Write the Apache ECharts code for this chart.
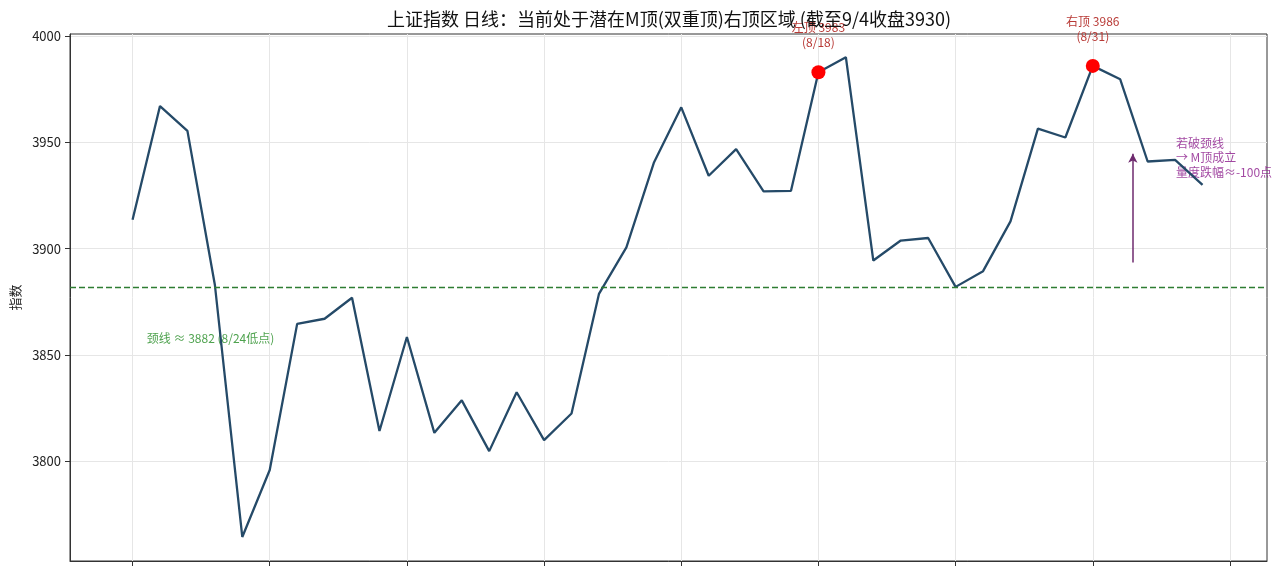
<!DOCTYPE html>
<html>
<head>
<meta charset="utf-8">
<script src="https://cdn.jsdelivr.net/npm/echarts@6/dist/echarts.min.js"></script>
<style>
    html, body { margin: 0; padding: 0; background: #fff; }
    #chart { width: 1278px; height: 577px; }
</style>
</head>
<body>
<div id="chart"></div>
<script>
// 日线收盘
var closes = [3913.6, 3967.1, 3955.4, 3883.0, 3764.3, 3795.8, 3864.6, 3867.0, 3876.9, 3814.2,
              3858.4, 3813.3, 3828.6, 3804.7, 3832.4, 3809.9, 3822.4, 3878.7, 3900.6, 3940.4,
              3966.5, 3934.3, 3946.8, 3926.9, 3927.2, 3983.0, 3990.1, 3894.4, 3903.8, 3905.0,
              3882.0, 3889.4, 3912.8, 3956.5, 3952.3, 3986.0, 3979.7, 3941.0, 3941.8, 3930.0];
var xTicks = [0, 5, 10, 15, 20, 25, 30, 35, 40];
var yTicks = [3800, 3850, 3900, 3950, 4000];

var peakIdx = [25, 35];
var peakLabels = ['左顶 3983\n(8/18)', '右顶 3986\n(8/31)'];

var neckline = 3882;
var necklineText = '颈线 ≈ 3882 (8/24低点)';
var necklineTextPos = [0.52, 3857.7];

var arrowFrom = [36.46, 3893.5];
var arrowTo = [36.46, 3944.6];
var noteText = '若破颈线\n→ M顶成立\n量度跌幅≈-100点';
var notePos = [38.03, 3942.7];

window.onload = function () {
    drawChart();
};

function drawChart() {
    var chart = echarts.init(document.getElementById('chart'));
    var font = '"Noto Sans CJK SC", "DejaVu Sans", sans-serif';

    var lineData = [];
    for (var i = 0; i < closes.length; i++) {
        lineData.push([i, closes[i]]);
    }
    var peakData = [];
    for (var j = 0; j < peakIdx.length; j++) {
        peakData.push({ value: [peakIdx[j], closes[peakIdx[j]]], label: { formatter: peakLabels[j] } });
    }

    var option = {
        animation: false,
        backgroundColor: '#fff',
        textStyle: { fontFamily: font },
        title: {
            text: '上证指数 日线：当前处于潜在M顶(双重顶)右顶区域 (截至9/4收盘3930)',
            left: 664,
            textAlign: 'center',
            top: 5,
            textStyle: { fontSize: 18, fontWeight: 'normal', color: '#111', fontFamily: font }
        },
        grid: {
            left: 70, right: 11, top: 34, bottom: 16,
            show: true, borderColor: '#333', borderWidth: 1
        },
        xAxis: {
            type: 'value',
            min: -2.28,
            max: 41.35,
            axisLine: { show: true, onZero: false, lineStyle: { color: '#333' } },
            axisTick: { show: true, customValues: xTicks, length: 5, lineStyle: { color: '#333' } },
            axisLabel: { show: false, customValues: xTicks },
            splitLine: { show: true, lineStyle: { color: '#e6e6e6', width: 1 } }
        },
        yAxis: {
            type: 'value',
            min: 3753,
            max: 4001,
            name: '指数',
            nameLocation: 'middle',
            nameGap: 46,
            nameTextStyle: { fontSize: 13, color: '#222' },
            axisLine: { show: true, onZero: false, lineStyle: { color: '#333' } },
            axisTick: { show: true, customValues: yTicks, length: 5, lineStyle: { color: '#333' } },
            axisLabel: {
                customValues: yTicks, fontSize: 13, color: '#222', margin: 9,
                formatter: function (v) { return String(v); }
            },
            splitLine: { show: true, lineStyle: { color: '#e6e6e6', width: 1 } }
        },
        series: [
            {
                name: '颈线文字',
                type: 'scatter',
                symbolSize: 0,
                silent: true,
                z: 1,
                data: [necklineTextPos],
                label: {
                    show: true, position: 'right', distance: 0,
                    formatter: necklineText, fontSize: 12, color: '#228b22'
                }
            },
            {
                name: '上证指数',
                type: 'line',
                data: lineData,
                showSymbol: false,
                z: 3,
                lineStyle: { color: '#254a68', width: 2.3 },
                markLine: {
                    silent: true,
                    symbol: 'none',
                    label: { show: false },
                    lineStyle: { color: '#2e7d32', type: [6, 3], width: 1.4 },
                    data: [{ yAxis: neckline }]
                }
            },
            {
                name: '顶部',
                type: 'scatter',
                symbolSize: 14,
                z: 5,
                itemStyle: { color: '#ff0000', opacity: 1 },
                data: peakData,
                label: {
                    show: true, position: 'top', distance: 15,
                    fontSize: 12, lineHeight: 15, color: '#b83a36'
                }
            },
            {
                name: '提示',
                type: 'scatter',
                symbolSize: 0,
                silent: true,
                z: 2,
                data: [notePos],
                label: {
                    show: true, position: 'right', distance: 0,
                    formatter: noteText, fontSize: 12, lineHeight: 14.5, color: '#8b1a8b'
                },
                markLine: {
                    silent: true,
                    symbol: ['none', 'arrow'],
                    symbolSize: [7, 9],
                    label: { show: false },
                    lineStyle: { color: '#6e2a6e', type: 'solid', width: 1.5 },
                    data: [[{ coord: arrowFrom }, { coord: arrowTo }]]
                }
            }
        ]
    };

    chart.setOption(option);
}
</script>
</body>
</html>
